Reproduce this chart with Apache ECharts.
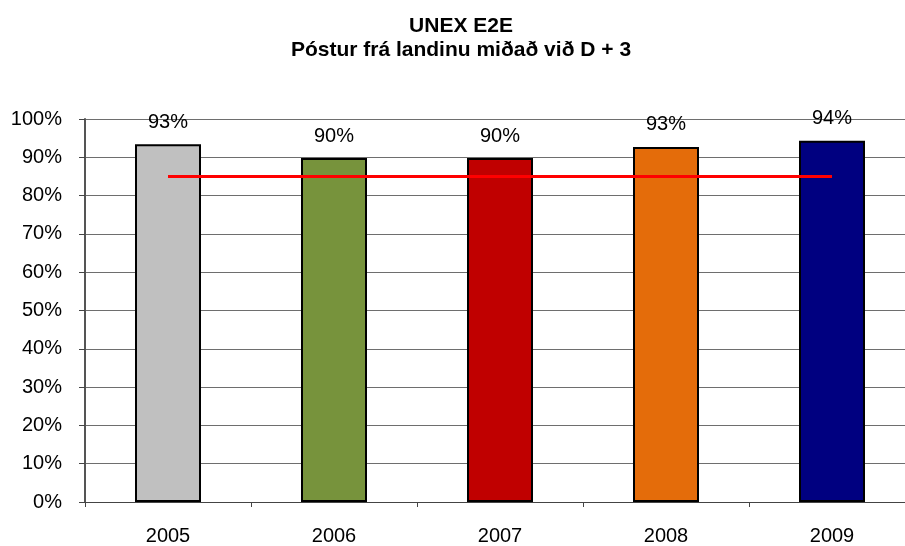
<!DOCTYPE html>
<html>
<head>
<meta charset="utf-8">
<script src="https://cdn.jsdelivr.net/npm/echarts@6/dist/echarts.min.js"></script>
<style>
  html, body { margin: 0; padding: 0; background: #fff; overflow: hidden; }
  #chart { width: 916px; height: 546px; }
</style>
</head>
<body>
<div id="chart"></div>
<script>
const years = ['2005', '2006', '2007', '2008', '2009'];
const results = [93.4, 89.8, 89.8, 92.7, 94.3];
const resultLabels = ['93%', '90%', '90%', '93%', '94%'];
const target = [85, 85, 85, 85, 85];
const barColors = ['#c0c0c0', '#77933c', '#c00000', '#e46c0a', '#000080'];

// plot area runs past the right edge of the picture, like the original
const chart = echarts.init(document.getElementById('chart'));
chart.setOption({
  animation: false,
  textStyle: { fontFamily: 'Liberation Sans, Arial, sans-serif' },
  title: {
    text: 'UNEX E2E\nPóstur frá landinu miðað við D + 3',
    left: 456,
    textAlign: 'center',
    top: 9,
    textStyle: {
      fontSize: 21,
      fontWeight: 'bold',
      color: '#000',
      lineHeight: 24,
    },
  },
  grid: {
    left: 85,
    top: 119,
    width: 830,
    height: 384,
  },
  xAxis: {
    type: 'category',
    data: years,
    axisLine: { lineStyle: { color: '#444', width: 1 } },
    axisTick: { show: true, length: 5, lineStyle: { color: '#444' } },
    axisLabel: { color: '#000', fontSize: 20, margin: 24 },
  },
  yAxis: {
    type: 'value',
    min: 0,
    max: 100,
    interval: 10,
    axisLine: { show: true, lineStyle: { color: '#555', width: 2 } },
    axisTick: { show: true, length: 6, lineStyle: { color: '#444' } },
    axisLabel: { color: '#000', fontSize: 20, margin: 23, formatter: '{value}%' },
    splitLine: { lineStyle: { color: '#6e6e6e', width: 1 } },
  },
  series: [
    {
      type: 'bar',
      barWidth: 66,
      data: results.map((v, i) => ({
        value: v,
        itemStyle: { color: barColors[i] },
        label: { formatter: resultLabels[i] },
      })),
      itemStyle: { borderColor: '#000', borderWidth: 2 },
      label: {
        show: true,
        position: 'top',
        distance: 12,
        fontSize: 20,
        color: '#000',
      },
      z: 2,
    },
    {
      type: 'line',
      data: target,
      symbol: 'none',
      lineStyle: { color: '#ff0000', width: 3 },
      z: 3,
    },
  ],
});
</script>
</body>
</html>
